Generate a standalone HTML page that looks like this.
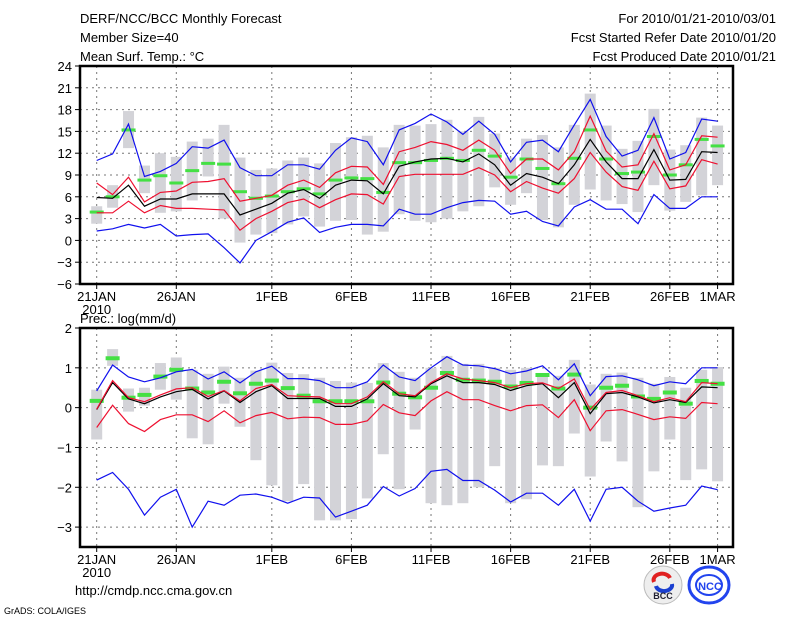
<!DOCTYPE html>
<html><head><meta charset="utf-8"><style>
body{margin:0;background:#fff;}
svg text{font-family:"Liberation Sans",sans-serif;}
</style></head><body>
<svg id="c" width="800" height="618" xmlns="http://www.w3.org/2000/svg">
<g font-size="13" fill="#000">
<text x="80" y="23">DERF/NCC/BCC Monthly Forecast</text>
<text x="80" y="42">Member Size=40</text>
<text x="80" y="61">Mean Surf. Temp.: °C</text>
<text x="776" y="23" text-anchor="end">For 2010/01/21-2010/03/01</text>
<text x="776" y="42" text-anchor="end">Fcst Started Refer Date 2010/01/20</text>
<text x="776" y="61" text-anchor="end">Fcst Produced Date 2010/01/21</text>
<text x="80" y="323">Prec.: log(mm/d)</text>
<text x="75" y="595">http://cmdp.ncc.cma.gov.cn</text>
<text x="4" y="614" font-size="9">GrADS: COLA/IGES</text>
</g>
<g>
<circle cx="663" cy="585" r="19" fill="#eee" stroke="#bbb"/>
<path d="M654 582 a8 6 0 0 1 16 -4" stroke="#e02020" stroke-width="4" fill="none"/>
<path d="M656 586 a8 6 0 0 0 16 -2" stroke="#1a3fd0" stroke-width="4" fill="none"/>
<text x="663" y="599" font-size="9" text-anchor="middle" fill="#223" font-weight="bold">BCC</text>
</g>
<g>
<ellipse cx="709" cy="585" rx="20" ry="18" fill="none" stroke="#2244ee" stroke-width="3"/>
<ellipse cx="709" cy="585" rx="13" ry="10" fill="none" stroke="#2244ee" stroke-width="2"/>
<text x="710" y="590" font-size="11" text-anchor="middle" fill="#2244ee" font-weight="bold">NCC</text>
</g>
<g id="p1"></g><g id="p2"></g>
</svg>
<script>
const days=["21JAN","26JAN","1FEB","6FEB","11FEB","16FEB","21FEB","26FEB","1MAR"];
const dayIdx=[0,5,11,16,21,26,31,36,39];
// Temperature
const tBlueHi=[11,11.9,16,8.8,9.5,10.6,12.9,12.7,13.8,10,8.9,8.9,10.4,10.4,9.8,12.4,14.1,13.6,10.4,15.2,16.1,17.4,16.3,14.6,16.4,14.6,10.8,13.5,13.8,12.2,15.9,19.4,14.3,11.6,12.4,16.9,11.2,12.1,16.7,16.4];
const tRedHi=[7.9,6.3,8.7,5.3,6.6,6.8,8,8.1,8.5,5.4,5.8,6.2,7.6,8.3,7.3,9.3,10.2,10.1,7.7,12.2,12.8,13.6,13.2,12.4,13.8,12.4,9.2,11.2,11.2,9.7,12.2,17.1,12.3,10.1,10.4,14.7,9.7,10.4,14.4,14.2];
const tMean=[5.9,5.8,7.6,4.7,5.7,5.7,6.4,6.4,6.4,3.5,4.3,5.1,6.5,7,5.8,7.6,8.3,8.2,6.4,10.2,10.8,11.2,11.3,10.8,11.9,10.4,7.6,9.2,8.7,7.8,10.4,13.9,10.8,8.5,8.5,12.5,8.3,8.4,12.2,12.1];
const tRedLo=[3.8,3.8,5.4,3.8,4.8,4.4,4.4,4.3,4.2,1.4,3,4,5.2,5.7,4.5,5.6,6.4,6.3,5,8.8,9.1,9.1,9.1,9.1,10,9,6.7,8.1,7.2,6.5,8.5,12.1,9.4,7.4,6.9,10.9,7.1,7.5,11.1,10.5];
const tBlueLo=[1.3,1.6,2.2,1.7,2.2,0.6,0.8,0.9,-1,-3.1,0,1.2,2.5,3.1,1.1,1.8,2.2,2.2,2,4.3,3.6,3.6,4.5,5.2,5.5,5.4,3.6,4,2.6,2,4.6,5.6,4.3,4.3,2.3,6.3,4.4,4.4,6,6];
const tObs=[3.9,6,15.2,8.3,8.9,7.9,9.6,10.6,10.5,6.7,5.8,6.1,6.7,7.1,6.4,8.3,8.6,8.5,6.6,10.7,10.7,11,11.3,11,12.4,11.6,8.7,11.2,9.9,7.8,11.3,15.2,11.2,9.2,9.4,14.3,9,10.4,13.9,13];
const tBoxLo=[2.3,4.5,12.7,6.5,3.8,4,5.5,8.8,3,-0.3,0.8,1,2.2,3.3,1.9,2.7,2.8,0.8,1.2,3.6,2.7,2.5,3,4,4.7,7.3,4.9,6.5,2.8,1.8,4.9,7,5.5,5,3.9,7.6,4.1,5.3,6.2,7.6];
const tBoxHi=[4.7,7.6,17.8,10.3,12,11.5,13.6,14,15.9,11.4,9.7,9.9,11,11.4,10.6,13.4,14.2,14.4,12.8,15.9,15.8,16,16.6,15,17,14.7,11.4,14,14.5,12.8,15.9,20.2,15.8,12.6,13.7,18.1,12.5,13.1,16.9,15.8];
const tTicks=[24,21,18,15,12,9,6,3,0,-3,-6];
// Precipitation
const pBlueHi=[0.42,1.07,0.77,0.65,0.75,0.9,0.96,0.72,0.9,0.62,0.9,1.04,0.73,0.73,0.68,0.5,0.5,0.65,1.07,0.77,0.68,1,1.28,1.07,1.05,0.98,0.85,0.92,1.05,0.7,1.1,0.3,0.78,0.8,0.7,0.55,0.65,0.6,1,1];
const pRedHi=[-0.04,0.68,0.25,0.15,0.32,0.47,0.5,0.28,0.43,0.17,0.48,0.58,0.3,0.28,0.27,0.1,0.1,0.27,0.65,0.35,0.3,0.63,0.85,0.72,0.68,0.63,0.5,0.6,0.62,0.48,0.72,-0.05,0.38,0.43,0.3,0.15,0.25,0.15,0.63,0.6];
const pMean=[-0.05,0.63,0.22,0.1,0.27,0.4,0.46,0.22,0.42,0.13,0.4,0.55,0.23,0.23,0.23,0.03,0.03,0.22,0.6,0.3,0.27,0.6,0.8,0.63,0.63,0.58,0.43,0.55,0.6,0.25,0.63,-0.15,0.35,0.38,0.27,0.12,0.2,0.13,0.52,0.5];
const pRedLo=[-0.5,0.06,-0.4,-0.6,-0.3,-0.18,-0.18,-0.35,-0.08,-0.38,-0.2,-0.12,-0.28,-0.24,-0.25,-0.42,-0.42,-0.33,0.08,-0.13,-0.2,0.17,0.4,0.2,0.2,0.05,-0.08,0.05,0.07,-0.25,0.2,-0.58,-0.08,-0.05,-0.17,-0.3,-0.23,-0.27,0.13,0.1];
const pBlueLo=[-1.82,-1.63,-2.05,-2.7,-2.25,-2.05,-3,-2.35,-2.45,-2.2,-2.17,-2.25,-2.4,-2.25,-2.27,-2.75,-2.6,-2.45,-1.98,-2.22,-2.03,-1.6,-1.55,-1.83,-1.83,-2.07,-2.37,-2.15,-2.15,-2.45,-2.05,-2.85,-2.05,-2,-2.35,-2.6,-2.52,-2.45,-1.97,-2.06];
const pObs=[0.17,1.24,0.25,0.32,0.78,0.95,0.48,0.38,0.65,0.36,0.6,0.68,0.49,0.3,0.16,0.16,0.16,0.16,0.63,0.35,0.26,0.5,0.87,0.7,0.68,0.65,0.53,0.62,0.82,0.48,0.83,0,0.5,0.55,0.28,0.22,0.38,0.1,0.67,0.6];
const pBoxLo=[-0.8,1.05,-0.1,0.05,0.45,0.2,-0.77,-0.92,0.1,-0.48,-1.32,-1.95,-2.35,-1.92,-2.83,-2.83,-2.8,-2.28,-1.17,-2.05,-0.55,-2.4,-2.45,-2.4,-2,-1.47,-2.4,-2.3,-1.45,-1.47,-0.65,-1.73,-0.85,-1.35,-2.5,-1.6,-0.8,-1.82,-1.55,-1.85];
const pBoxHi=[0.45,1.47,0.48,0.5,1.12,1.26,0.95,0.85,1.03,0.75,0.93,1.13,0.87,0.84,0.75,0.67,0.63,0.62,1.12,0.9,0.75,1,1.3,1.1,1.1,1,0.95,1,0.85,0.8,1.2,0.58,0.85,0.88,0.75,0.6,0.77,0.5,0.95,1.02];
const pTicks=[2,1,0,-1,-2,-3];

const NS="http://www.w3.org/2000/svg";
function mk(p,tag,attrs){const e=document.createElementNS(NS,tag);for(const k in attrs)e.setAttribute(k,attrs[k]);p.appendChild(e);return e;}
const X0=80,X1=733;
function xs(i){return 96.7+15.92*i;}
function panel(g,top,bot,vmax,vmin,ticks,series,obs,bLo,bHi,obsH,fmt){
  const ys=v=>top+(vmax-v)/(vmax-vmin)*(bot-top);
  // grid
  ticks.forEach(t=>{
    if(t!==vmax&&t!==vmin){const l=mk(g,'line',{x1:X0,x2:X1,y1:ys(t),y2:ys(t),stroke:'#777','stroke-dasharray':'2,4','stroke-width':1});
    
    }
    const tk=mk(g,'line',{x1:X0-5,x2:X0,y1:ys(t),y2:ys(t),stroke:'#000'});
    
    
    const tx=mk(g,'text',{x:X0-8,y:ys(t)+5,'text-anchor':'end','font-size':13});
    tx.textContent=fmt(t);
    
    
  });
  dayIdx.forEach((d,k)=>{
    const l=mk(g,'line',{x1:xs(d),x2:xs(d),y1:top,y2:bot,stroke:'#777','stroke-dasharray':'2,4','stroke-width':1});
    
    
    const tk=mk(g,'line',{x1:xs(d),x2:xs(d),y1:bot,y2:bot+5,stroke:'#000'});
    
    
    const tx=mk(g,'text',{x:xs(d),y:bot+17,'text-anchor':'middle','font-size':13});
    tx.textContent=days[k];
    
    
  });
  const yr=mk(g,'text',{x:xs(0),y:bot+30,'text-anchor':'middle','font-size':13});
  yr.textContent='2010';
  
  
  // boxes
  bLo.forEach((lo,i)=>{
    const r=mk(g,'rect',{x:xs(i)-5.5,y:ys(bHi[i]),width:11,height:ys(lo)-ys(bHi[i]),fill:'#d3d3d8'});
    
    
  });
  obs.forEach((v,i)=>{
    const r=mk(g,'rect',{x:xs(i)-7,y:ys(v)-obsH/2,width:14,height:obsH,fill:'#44e044'});
    
    
  });
  series.forEach(s=>{
    const pl=mk(g,'polyline',{points:s.d.map((v,i)=>xs(i).toFixed(1)+','+ys(v).toFixed(1)).join(' '),fill:'none',stroke:s.c,'stroke-width':1.2});
    
    
  });
  const f=mk(g,'rect',{x:X0,y:top,width:X1-X0,height:bot-top,fill:'none',stroke:'#000','stroke-width':2.5});
  
  
}
const g1=document.getElementById('p1'),g2=document.getElementById('p2');
panel(g1,66,284,24,-6,tTicks,[
 {d:tBlueHi,c:'#1010ee',n:'temp-max-line'},{d:tBlueLo,c:'#1010ee',n:'temp-min-line'},
 {d:tRedHi,c:'#ee1030',n:'temp-upper-line'},{d:tRedLo,c:'#ee1030',n:'temp-lower-line'},
 {d:tMean,c:'#000',n:'temp-mean-line'}],tObs,tBoxLo,tBoxHi,3,t=>t<0?'−'+(-t):''+t);
panel(g2,328,547,2,-3.5,pTicks,[
 {d:pBlueHi,c:'#1010ee',n:'prec-max-line'},{d:pBlueLo,c:'#1010ee',n:'prec-min-line'},
 {d:pRedLo,c:'#ee1030',n:'prec-lower-line'},{d:pMean,c:'#000',n:'prec-mean-line'},
 {d:pRedHi,c:'#ee1030',n:'prec-upper-line'}],pObs,pBoxLo,pBoxHi,4,t=>t<0?'−'+(-t):''+t);
</script>
</body></html>
